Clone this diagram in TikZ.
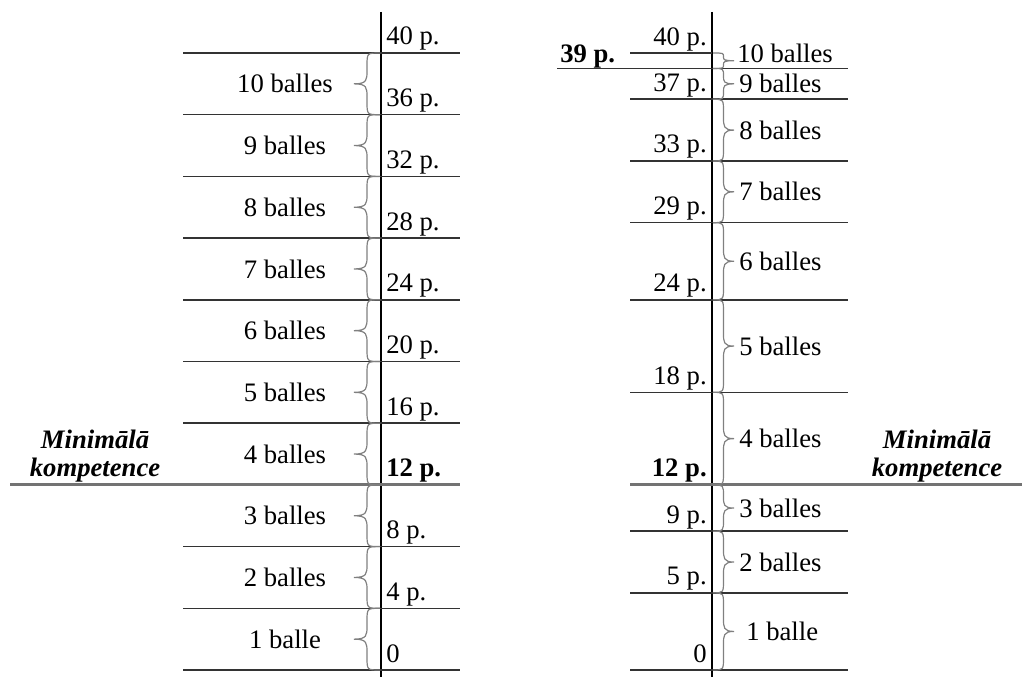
\documentclass[tikz,border=0pt]{standalone}
\usepackage{fontspec}
\setmainfont{Liberation Serif}
\begin{document}
\begin{tikzpicture}[x=0.75pt,y=0.75pt,
  declare function={Y(\p)=-(670-15.425*\p);},
  every node/.style={inner sep=0pt,font=\fontsize{20}{21}\selectfont},
  axisline/.style={draw=black,line width=1.1pt},
  tick/.style={draw=black!80,line width=1.2pt},
  limit/.style={draw=black!55,line width=2.4pt},
  bracestyle/.style={draw=black!50,line width=0.9pt},
  pl/.style={anchor=base west},
  pr/.style={anchor=base east},
  bl/.style={anchor=center},
  br/.style={anchor=west},
  bold/.style={font=\fontsize{20}{21}\selectfont\bfseries},
  mk/.style={font=\fontsize{20}{21}\selectfont\bfseries\itshape,align=center}]
\useasboundingbox (0,0) rectangle (1022,-677);
\newcommand\mybrace[4]{%
  \pgfmathsetmacro\bT{-(670-15.425*(#2))}%
  \pgfmathsetmacro\bB{-(670-15.425*(#3))}%
  \pgfmathsetmacro\bM{(\bT+\bB)/2}%
  \pgfmathsetmacro\bC{min((\bT-\bB)/4,13)}%
  \pgfmathsetmacro\bS{#1+(#4)*0.5}%
  \pgfmathsetmacro\bX{#1+(#4)}%
  \pgfmathsetmacro\bTa{\bT-\bC}%
  \pgfmathsetmacro\bMa{\bM+\bC}%
  \pgfmathsetmacro\bMb{\bM-\bC}%
  \pgfmathsetmacro\bBa{\bB+\bC}%
  \pgfmathsetmacro\bMc{\bM+\bC*0.3}%
  \pgfmathsetmacro\bMd{\bM-\bC*0.3}%
  \draw[bracestyle] (#1,\bT) .. controls (\bS,\bT) .. (\bS,\bTa) -- (\bS,\bMa)
     .. controls (\bS,\bMc) and (\bS,\bM) .. (\bX,\bM)
     .. controls (\bS,\bM) and (\bS,\bMd) .. (\bS,\bMb)
     -- (\bS,\bBa) .. controls (\bS,\bB) .. (#1,\bB);}
% ---------------- left scale ----------------
\coordinate (LA1) at (381,-12);
\coordinate (LA2) at (381,-677);
\draw[axisline] (LA1) -- (LA2);
\foreach \p in {0,4,8,16,20,24,28,32,36,40}{
  \draw[tick] (183,{Y(\p)}) -- (460,{Y(\p)});
}
\draw[limit] (10,{Y(12)}) -- (460,{Y(12)});
\foreach \p in {0,4,8,12,16,20,24,28,32,36}{
  \mybrace{380}{\p+4}{\p}{-26}
}
\node[pl] (l40) at (386,{Y(40)+8}) {40 p.};
\node[pl] (l36) at (386,{Y(36)+8}) {36 p.};
\node[pl] (l32) at (386,{Y(32)+8}) {32 p.};
\node[pl] (l28) at (386,{Y(28)+8}) {28 p.};
\node[pl] (l24) at (386,{Y(24)+8}) {24 p.};
\node[pl] (l20) at (386,{Y(20)+8}) {20 p.};
\node[pl] (l16) at (386,{Y(16)+8}) {16 p.};
\node[pl,bold] (l12) at (386,{Y(12)+8}) {12 p.};
\node[pl] (l8) at (386,{Y(8)+8}) {8 p.};
\node[pl] (l4) at (386,{Y(4)+8}) {4 p.};
\node[pl] (l0) at (386,{Y(0)+8}) {0};
\node[bl] (lb10) at (285,{Y(38)}) {10 balles};
\node[bl] (lb9) at (285,{Y(34)}) {9 balles};
\node[bl] (lb8) at (285,{Y(30)}) {8 balles};
\node[bl] (lb7) at (285,{Y(26)}) {7 balles};
\node[bl] (lb6) at (285,{Y(22)}) {6 balles};
\node[bl] (lb5) at (285,{Y(18)}) {5 balles};
\node[bl] (lb4) at (285,{Y(14)}) {4 balles};
\node[bl] (lb3) at (285,{Y(10)}) {3 balles};
\node[bl] (lb2) at (285,{Y(6)}) {2 balles};
\node[bl] (lb1) at (285,{Y(2)}) {1 balle};
\node[mk] (lmk) at (95,-456) {Minimālā\\kompetence};
% ---------------- right scale ----------------
\coordinate (RA1) at (712,-12);
\coordinate (RA2) at (712,-677);
\draw[axisline] (RA1) -- (RA2);
\draw[tick] (630,{Y(40)}) -- (712,{Y(40)});
\draw[tick] (557,{Y(39)}) -- (848,{Y(39)});
\foreach \p in {0,5,9,18,24,29,33,37}{
  \draw[tick] (630,{Y(\p)}) -- (848,{Y(\p)});
}
\draw[limit] (630,{Y(12)}) -- (1022,{Y(12)});
\mybrace{713}{5}{0}{21}
\mybrace{713}{9}{5}{21}
\mybrace{713}{12}{9}{21}
\mybrace{713}{18}{12}{21}
\mybrace{713}{24}{18}{21}
\mybrace{713}{29}{24}{21}
\mybrace{713}{33}{29}{21}
\mybrace{713}{37}{33}{21}
\mybrace{713}{39}{37}{21}
\mybrace{713}{40}{39}{21}
\node[pr] (r40) at (707,{Y(40)+7}) {40 p.};
\node[pl,bold] (r39) at (560,{Y(39)+6}) {39 p.};
\node[pr] (r37) at (707,{Y(37)+8}) {37 p.};
\node[pr] (r33) at (707,{Y(33)+8}) {33 p.};
\node[pr] (r29) at (707,{Y(29)+8}) {29 p.};
\node[pr] (r24) at (707,{Y(24)+8}) {24 p.};
\node[pr] (r18) at (707,{Y(18)+8}) {18 p.};
\node[pr,bold] (r12) at (707,{Y(12)+8}) {12 p.};
\node[pr] (r9) at (707,{Y(9)+8}) {9 p.};
\node[pr] (r5) at (707,{Y(5)+8}) {5 p.};
\node[pr] (r0) at (707,{Y(0)+8}) {0};
\node[br] (rb10) at (737,{Y(40)}) {10 balles};
\node[br] (rb9) at (739,{Y(38.06)}) {9 balles};
\node[br] (rb8) at (739,{Y(35)}) {8 balles};
\node[br] (rb7) at (739,{Y(31)}) {7 balles};
\node[br] (rb6) at (739,{Y(26.5)}) {6 balles};
\node[br] (rb5) at (739,{Y(21)}) {5 balles};
\node[br] (rb4) at (739,{Y(15)}) {4 balles};
\node[br] (rb3) at (739,{Y(10.5)}) {3 balles};
\node[br] (rb2) at (739,{Y(7)}) {2 balles};
\node[br] (rb1) at (746,{Y(2.5)}) {1 balle};
\node[mk] (rmk) at (937,-456) {Minimālā\\kompetence};
\end{tikzpicture}
\end{document}
